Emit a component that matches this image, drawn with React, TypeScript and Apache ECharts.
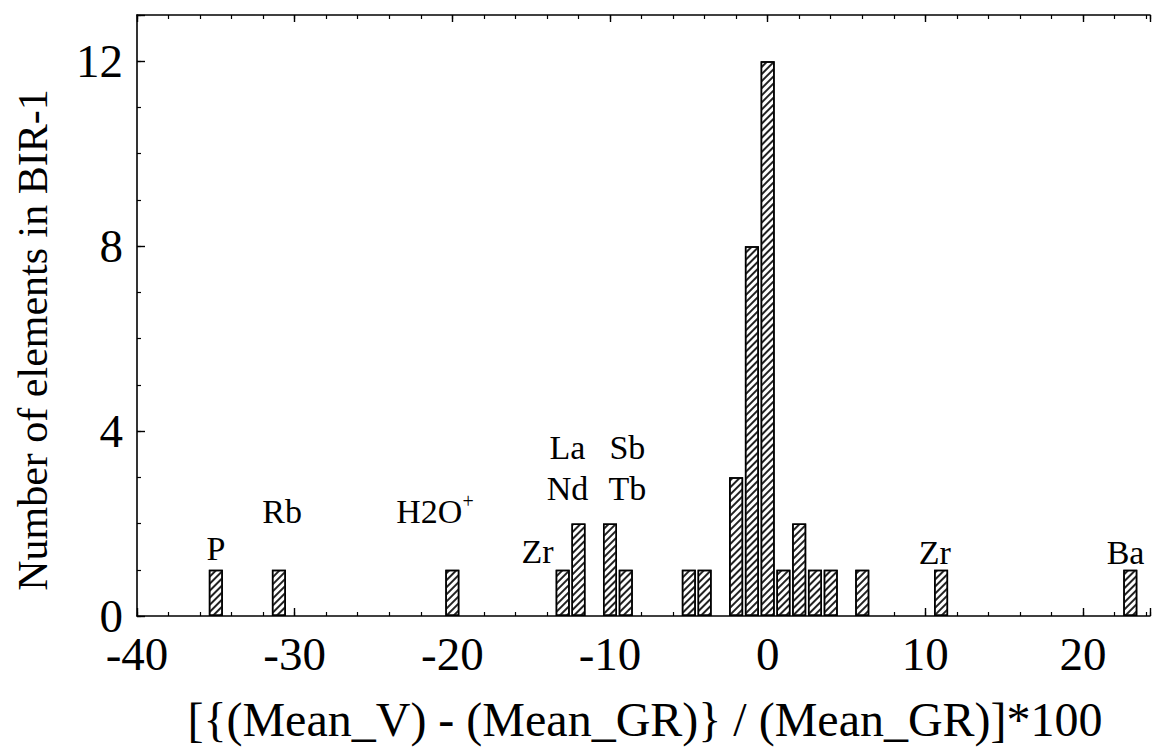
import React, { useEffect, useRef } from "react";
import * as echarts from "echarts";

// Histogram bins (bin centre, %) and counts
const binCenters = [-35, -31, -20, -13, -12, -10, -9, -5, -4, -2, -1, 0, 1, 2, 3, 4, 6, 11, 23];
const binCounts = [1, 1, 1, 1, 2, 2, 1, 1, 1, 3, 8, 12, 1, 2, 1, 1, 1, 1, 1];

// Tick labels
const xTickLabels = [-40, -30, -20, -10, 0, 10, 20];
const yTickLabels = [0, 4, 8, 12];

// Element annotations
const noteTexts = ["P", "Rb", "H2O+", "Zr", "La\nNd", "Sb\nTb", "Zr", "Ba"];
const noteX = [-35, -30.8, -21.1, -14.6, -12.7, -8.9, 10.6, 22.7];
const noteY = [1.45, 2.25, 2.25, 1.4, 3.2, 3.2, 1.38, 1.38];

const xTitle = "[{(Mean_V) - (Mean_GR)} / (Mean_GR)]*100";
const yTitle = "Number of elements in BIR-1";

const FONT = "'Liberation Serif', 'Times New Roman', serif";

export default function App() {
  const ref = useRef<HTMLDivElement>(null);
  useEffect(() => {
    if (!ref.current) return;
    const chart = echarts.init(ref.current, null, { renderer: "svg" });
    const axisLineStyle = { color: "#000", width: 1.6 };
    const xBase = { type: "value", min: -40, max: 24.25, splitLine: { show: false } };
    const yBase = { type: "value", min: 0, max: 13, splitLine: { show: false } };
    chart.setOption({
      animation: false,
      backgroundColor: "#fff",
      grid: { left: 137, right: 0, top: 15, bottom: 133, containLabel: false },
      xAxis: [
        {
          ...xBase,
          position: "bottom",
          interval: 2,
          axisLine: { show: true, onZero: false, lineStyle: axisLineStyle },
          axisTick: { show: true, inside: true, length: 4, lineStyle: { color: "#000", width: 1.2 } },
          axisLabel: {
            show: true,
            margin: 21,
            fontSize: 47,
            lineHeight: 34,
            fontFamily: FONT,
            color: "#000",
            formatter: (v: number) => (xTickLabels.includes(v) ? String(v) : ""),
          },
        },
        {
          ...xBase,
          position: "bottom",
          interval: 10,
          axisLine: { show: false, onZero: false },
          axisTick: { show: true, inside: true, length: 8, lineStyle: { color: "#000", width: 1.4 } },
          axisLabel: { show: false },
        },
        {
          ...xBase,
          position: "top",
          interval: 2,
          axisLine: { show: true, onZero: false, lineStyle: axisLineStyle },
          axisTick: { show: true, inside: true, length: 4, lineStyle: { color: "#000", width: 1.2 } },
          axisLabel: { show: false },
        },
        {
          ...xBase,
          position: "top",
          interval: 10,
          axisLine: { show: false, onZero: false },
          axisTick: { show: true, inside: true, length: 7, lineStyle: { color: "#000", width: 1.4 } },
          axisLabel: { show: false },
        },
      ],
      yAxis: [
        {
          ...yBase,
          position: "left",
          interval: 1,
          axisLine: { show: true, onZero: false, lineStyle: axisLineStyle },
          axisTick: { show: true, inside: true, length: 4, lineStyle: { color: "#000", width: 1.2 } },
          axisLabel: {
            show: true,
            margin: 14,
            fontSize: 47,
            lineHeight: 34,
            fontFamily: FONT,
            color: "#000",
            formatter: (v: number) => (yTickLabels.includes(v) ? String(v) : ""),
          },
        },
        {
          ...yBase,
          position: "left",
          interval: 4,
          axisLine: { show: false, onZero: false },
          axisTick: { show: true, inside: true, length: 8, lineStyle: { color: "#000", width: 1.4 } },
          axisLabel: { show: false },
        },
      ],
      series: [
        {
          type: "bar",
          xAxisIndex: 0,
          yAxisIndex: 0,
          barWidth: 14,
          data: binCenters.map((x, i) => [x, binCounts[i]]),
          itemStyle: {
            color: "#fff",
            borderColor: "#000",
            borderWidth: 1.5,
            decal: {
              symbol: "rect",
              symbolSize: 1,
              color: "#222",
              dashArrayX: [1, 0],
              dashArrayY: [1.1, 2.4],
              rotation: -Math.PI / 4,
            },
          },
        },
        {
          type: "scatter",
          xAxisIndex: 0,
          yAxisIndex: 0,
          symbolSize: 0,
          z: 5,
          itemStyle: { opacity: 1 },
          data: noteX.map((x, i) => ({ value: [x, noteY[i]], name: noteTexts[i] })),
          label: {
            show: true,
            position: "inside",
            color: "#000",
            opacity: 1,
            fontSize: 34,
            fontFamily: FONT,
            lineHeight: 41,
            formatter: (p: any) =>
              p.name === "H2O+" ? "{b|H2O}{s|+}" : p.name,
            rich: {
              b: { fontSize: 34, fontFamily: FONT, color: "#000" },
              s: { fontSize: 20, fontFamily: FONT, color: "#000", padding: [0, 0, 22, 0] },
            },
          },
        },
      ],
      graphic: [
        {
          type: "text",
          x: 33,
          y: 340,
          rotation: Math.PI / 2,
          style: {
            text: yTitle,
            fontSize: 42,
            fontFamily: FONT,
            fill: "#000",
            align: "center",
            verticalAlign: "middle",
          },
        },
        {
          type: "text",
          x: 645,
          y: 719,
          style: {
            text: xTitle,
            fontSize: 48,
            fontFamily: FONT,
            fill: "#000",
            align: "center",
            verticalAlign: "middle",
          },
        },
      ],
    });
    return () => chart.dispose();
  }, []);
  return (
    <div
      ref={ref}
      style={{ position: "fixed", left: 0, top: 0, width: 1153, height: 749, background: "#fff" }}
    />
  );
}
